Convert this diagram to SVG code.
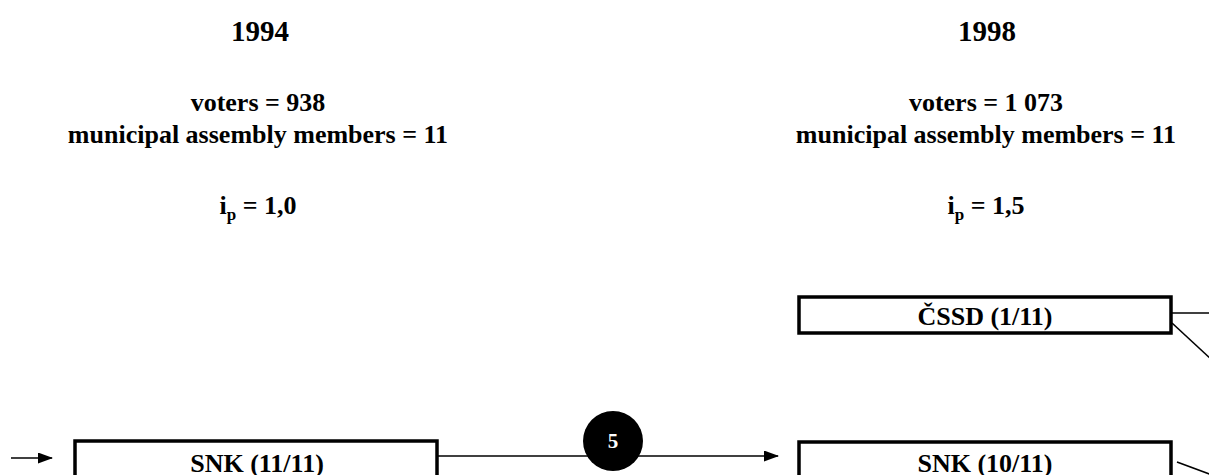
<svg xmlns="http://www.w3.org/2000/svg" width="1209" height="475" viewBox="0 0 1209 475">
<style>
text{font-family:"Liberation Serif","Times New Roman",serif;font-weight:bold;fill:#000;text-anchor:middle}
.h{font-size:29px}
.t{font-size:26px}
.box{fill:#fff;stroke:#000;stroke-width:3.5}
.ln{stroke:#000;stroke-width:1.6;fill:none}
</style>
<defs>
<marker id="arr" markerWidth="15" markerHeight="11" refX="14" refY="5.5" orient="auto" markerUnits="userSpaceOnUse">
<path d="M0,0 L15,5.5 L0,11 Z" fill="#000"/>
</marker>
</defs>
<g id="header-1994">
<text class="h" x="260" y="41">1994</text>
<text class="t" x="258" y="111">voters = 938</text>
<text class="t" x="258" y="143">municipal assembly members = 11</text>
<text class="t" x="258" y="214">i<tspan font-size="17" dy="6">p</tspan><tspan dy="-6"> = 1,0</tspan></text>
</g>
<g id="header-1998">
<text class="h" x="987" y="41">1998</text>
<text class="t" x="986" y="111">voters = 1 073</text>
<text class="t" x="986" y="143">municipal assembly members = 11</text>
<text class="t" x="986" y="214">i<tspan font-size="17" dy="6">p</tspan><tspan dy="-6"> = 1,5</tspan></text>
</g>
<g id="connectors">
<line class="ln" x1="11" y1="458" x2="52" y2="458" marker-end="url(#arr)"/>
<line class="ln" x1="438" y1="456" x2="778" y2="456" marker-end="url(#arr)"/>
<line class="ln" x1="1172" y1="313" x2="1209" y2="313"/>
<line class="ln" x1="1172" y1="323" x2="1212" y2="360"/>
<line class="ln" x1="1177" y1="462" x2="1212" y2="475"/>
</g>
<g id="snk-1994">
<rect class="box" x="75" y="441" width="362" height="50"/>
<text class="t" x="257" y="472">SNK (11/11)</text>
</g>
<g id="flow-5">
<circle cx="613" cy="441" r="30" fill="#000"/>
<text x="613" y="448" style="font-size:21px;fill:#fff">5</text>
</g>
<g id="cssd-1998">
<rect class="box" x="799" y="297" width="372" height="36"/>
<text class="t" x="985" y="325">ČSSD (1/11)</text>
</g>
<g id="snk-1998">
<rect class="box" x="799" y="442" width="372" height="50"/>
<text class="t" x="985" y="472">SNK (10/11)</text>
</g>
</svg>
